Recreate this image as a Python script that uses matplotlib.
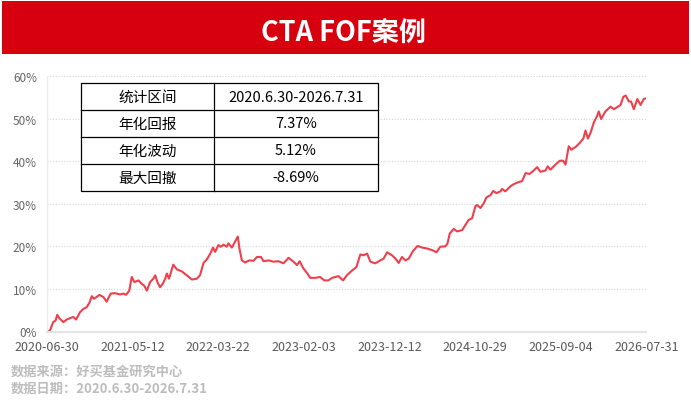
import matplotlib
matplotlib.use("Agg")
import matplotlib.pyplot as plt
from matplotlib.patches import Rectangle
import numpy as np

plt.rcParams['font.family'] = ['Noto Sans CJK SC', 'DejaVu Sans']

# cumulative return (%), x = days since 2020-06-30
days = [0, 12, 24, 33, 39, 47, 62, 74, 89, 99, 109, 123, 136, 148, 158, 167, 175, 185,
        195, 210, 222, 237, 253, 272, 284, 294, 306, 315, 325, 340, 352, 362, 371, 383,
        395, 402, 410, 420, 430, 439, 445, 453, 469, 482, 501, 519, 538, 556, 568, 581,
        593, 606, 616, 624, 636, 645, 655, 667, 673, 686, 698, 708, 714, 723, 735, 751,
        766, 779, 794, 803, 822, 840, 859, 877, 896, 914, 927, 937, 951, 966, 976, 995,
        1013, 1028, 1044, 1057, 1069, 1081, 1098, 1112, 1131, 1147, 1162, 1174, 1187,
        1199, 1217, 1236, 1248, 1261, 1279, 1292, 1304, 1316, 1329, 1341, 1357, 1374,
        1391, 1409, 1428, 1444, 1458, 1477, 1485, 1493, 1508, 1520, 1539, 1551, 1563,
        1576, 1588, 1594, 1607, 1619, 1629, 1644, 1654, 1666, 1681, 1687, 1699, 1718,
        1730, 1749, 1761, 1774, 1789, 1804, 1817, 1829, 1848, 1856, 1866, 1885, 1901,
        1913, 1922, 1934, 1943, 1959, 1975, 1988, 1996, 2005, 2015, 2027, 2039, 2045,
        2054, 2070, 2089, 2101, 2116, 2126, 2136, 2145, 2157, 2165, 2175, 2188, 2200,
        2212, 2222]
cum_ret = [0.0, 0.2, 2.2, 2.6, 3.9, 3.1, 2.2, 2.8, 3.2, 3.4, 2.8, 4.5, 5.3, 5.7, 6.7, 8.3,
           7.7, 8.1, 8.6, 8.1, 7.0, 8.9, 9.0, 8.7, 8.9, 8.6, 9.6, 12.8, 11.6, 12.0, 11.2,
           10.7, 9.6, 11.6, 12.4, 13.2, 11.6, 10.4, 11.2, 12.4, 13.6, 12.4, 15.7, 14.6,
           14.1, 13.2, 12.2, 12.4, 13.2, 16.1, 16.9, 18.3, 19.7, 18.7, 20.3, 19.9, 20.4,
           19.9, 20.7, 19.7, 21.1, 22.3, 19.5, 16.7, 16.2, 16.7, 16.6, 17.5, 17.5, 16.5,
           16.7, 16.4, 16.5, 16.0, 17.3, 16.4, 15.6, 16.5, 14.8, 13.6, 12.6, 12.6, 12.8,
           12.0, 12.0, 12.6, 12.8, 13.0, 12.0, 13.2, 14.3, 15.1, 18.1, 17.9, 18.3, 16.4,
           16.0, 16.7, 17.1, 18.6, 17.9, 17.1, 16.1, 17.5, 16.7, 17.1, 18.9, 20.1, 19.7,
           19.5, 19.1, 18.6, 19.9, 20.0, 20.7, 23.0, 24.1, 23.5, 23.8, 25.0, 26.2, 26.6,
           29.4, 29.7, 29.0, 30.1, 31.5, 32.0, 33.0, 32.5, 32.9, 33.5, 32.9, 34.1, 34.6,
           35.1, 35.3, 37.2, 37.0, 37.8, 38.6, 37.5, 37.8, 38.8, 38.0, 39.2, 40.1, 40.1,
           39.2, 43.5, 42.7, 43.3, 44.3, 45.3, 47.2, 45.3, 46.7, 49.1, 50.6, 51.7, 49.9,
           51.7, 52.8, 52.2, 52.8, 53.2, 55.1, 55.4, 54.0, 54.0, 52.2, 54.6, 53.2, 54.6,
           54.8]

x_labels = ['2020-06-30', '2021-05-12', '2022-03-22', '2023-02-03',
            '2023-12-12', '2024-10-29', '2025-09-04', '2026-07-31']
y_ticks = [0, 10, 20, 30, 40, 50, 60]

stat_names = ['统计区间', '年化回报', '年化波动', '最大回撤']
stat_values = ['2020.6.30-2026.7.31', '7.37%', '5.12%', '-8.69%']

title = 'CTA FOF案例'
source_lines = ['数据来源：好买基金研究中心', '数据日期：2020.6.30-2026.7.31']

W, H = 691, 402
fig = plt.figure(figsize=(W / 100, H / 100), dpi=100)

# main chart
ax = fig.add_axes([46.7 / W, (H - 332.5) / H, (646.5 - 46.7) / W, (332.5 - 77) / H])
ax.plot(days, cum_ret, color='#ee3f4d', lw=1.5, solid_joinstyle='round')
ax.set_xlim(0, days[-1])
ax.set_ylim(0, 60)
ax.set_yticks(y_ticks)
ax.set_yticklabels([f'{v}%' for v in y_ticks])
ax.set_xticks(np.linspace(0, days[-1], len(x_labels)))
ax.set_xticklabels(x_labels)
ax.tick_params(axis='both', length=0, colors='#666666', labelsize=9)
ax.tick_params(axis='x', pad=6, labelcolor='#595959')
ax.tick_params(axis='y', pad=7, labelsize=8.5)
for y in y_ticks[1:]:
    ax.axhline(y, color='#d6d6d6', lw=0.8, ls=(0, (1, 1.5)), zorder=0)
for s in ['top', 'right']:
    ax.spines[s].set_visible(False)
ax.spines['left'].set_color('#ececec')
ax.spines['left'].set_linewidth(1)
ax.spines['bottom'].set_color('#e4e4e4')
ax.spines['bottom'].set_linewidth(1.5)

# overlay in pixel coords for header, table, footer
ov = fig.add_axes([0, 0, 1, 1], zorder=5)
ov.set_xlim(0, W)
ov.set_ylim(H, 0)
ov.axis('off')
ov.patch.set_alpha(0)

ov.add_patch(Rectangle((2, 2), W - 4, 53, color='#d7000f', lw=0))
ov.text(344, 33, title, color='white', fontsize=19.5, fontweight='bold',
        ha='center', va='center')

# stats table
tx0, tx1, tx2 = 80.7, 214, 377.7
ty0, row_h = 84, 27
ov.add_patch(Rectangle((tx0, ty0), tx2 - tx0, row_h * len(stat_names),
                       facecolor='white', edgecolor='black', lw=0.9))
ov.plot([tx1, tx1], [ty0, ty0 + row_h * len(stat_names)], color='black', lw=0.9)
for i, (name, val) in enumerate(zip(stat_names, stat_values)):
    yc = ty0 + row_h * (i + 0.5)
    if i > 0:
        ov.plot([tx0, tx2], [ty0 + row_h * i] * 2, color='black', lw=0.9)
    ov.text((tx0 + tx1) / 2, yc, name, fontsize=10.5, ha='center', va='center', color='black')
    ov.text((tx1 + tx2) / 2, yc, val, fontsize=10.5, ha='center', va='center', color='black')

for i, line in enumerate(source_lines):
    ov.text(11, 371.7 + 16.6 * i, line, fontsize=9.5, fontweight='bold',
            color='#bdbdbd', ha='left', va='center')

fig.savefig('out.png', dpi=100)
